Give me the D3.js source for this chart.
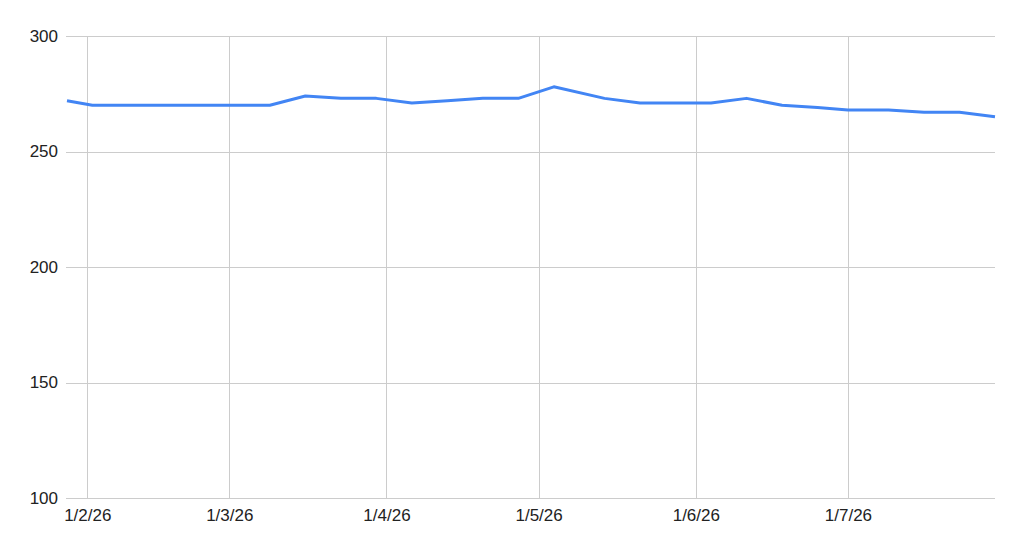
<!DOCTYPE html>
<html>
<head>
<meta charset="utf-8">
<script src="https://cdn.jsdelivr.net/npm/d3@7"></script>
<style>
  html, body { margin: 0; padding: 0; background: #fff; }
  svg { display: block; }
  text { font-family: "Liberation Sans", Arial, sans-serif; fill: #222; }
</style>
</head>
<body>
<svg id="chart" width="1023" height="553"></svg>
<script>
// Data (d/m/yyyy dates)
const dates = [
  "2026-01-28", "2026-02-02", "2026-02-09", "2026-02-16", "2026-02-23", "2026-03-02",
  "2026-03-09", "2026-03-16", "2026-03-23", "2026-03-30", "2026-04-06", "2026-04-13",
  "2026-04-20", "2026-04-27", "2026-05-04", "2026-05-14", "2026-05-21", "2026-05-28",
  "2026-06-04", "2026-06-11", "2026-06-18", "2026-06-25", "2026-07-01", "2026-07-09",
  "2026-07-16", "2026-07-23", "2026-07-30"
];
const values = [
  272, 270, 270, 270, 270, 270,
  270, 274, 273, 273, 271, 272,
  273, 273, 278, 273, 271, 271,
  271, 273, 270, 269, 268, 268,
  267, 267, 265
];
const yTicks = [100, 150, 200, 250, 300];
const xTicks = ["2026-02-01", "2026-03-01", "2026-04-01", "2026-05-01", "2026-06-01", "2026-07-01"];

const parse = d3.timeParse("%Y-%m-%d");
const data = dates.map((d, i) => ({ date: parse(d), value: values[i] }));
const xTickDates = xTicks.map(parse);

const margin = { left: 67, right: 28, top: 36, bottom: 55 };
const W = 1023, H = 553;
const svg = d3.select("#chart");

const x = d3.scaleTime()
  .domain(d3.extent(data, d => d.date))
  .range([margin.left, W - margin.right]);
const y = d3.scaleLinear()
  .domain([100, 300])
  .range([H - margin.bottom, margin.top]);

const grid = "#cccccc";

// Horizontal gridlines
svg.append("g")
  .selectAll("line")
  .data(yTicks)
  .join("line")
  .attr("x1", margin.left - 1)
  .attr("x2", W - margin.right)
  .attr("y1", d => Math.round(y(d)) + 0.5)
  .attr("y2", d => Math.round(y(d)) + 0.5)
  .attr("stroke", grid)
  .attr("stroke-width", 1);

// Vertical gridlines
svg.append("g")
  .selectAll("line")
  .data(xTickDates)
  .join("line")
  .attr("x1", d => Math.round(x(d)) + 0.5)
  .attr("x2", d => Math.round(x(d)) + 0.5)
  .attr("y1", y(300))
  .attr("y2", y(100))
  .attr("stroke", grid)
  .attr("stroke-width", 1);

// Y axis labels
const yAxis = d3.axisLeft(y).tickValues(yTicks).tickSize(0).tickPadding(9);
const gy = svg.append("g")
  .attr("transform", `translate(${margin.left},0)`)
  .call(yAxis);
gy.select(".domain").remove();
gy.selectAll("text")
  .style("font-family", '"Liberation Sans", Arial, sans-serif')
  .style("font-size", "17px")
  .attr("fill", "#222");

// X axis labels
const fmt = d => `${d.getDate()}/${d.getMonth() + 1}/${String(d.getFullYear()).slice(2)}`;
const xAxis = d3.axisBottom(x).tickValues(xTickDates).tickFormat(fmt).tickSize(0).tickPadding(11);
const gx = svg.append("g")
  .attr("transform", `translate(0,${y(100)})`)
  .call(xAxis);
gx.select(".domain").remove();
gx.selectAll("text")
  .style("font-family", '"Liberation Sans", Arial, sans-serif')
  .style("font-size", "17px")
  .attr("fill", "#222");

// Line
const line = d3.line()
  .x(d => x(d.date))
  .y(d => y(d.value));
svg.append("path")
  .datum(data)
  .attr("fill", "none")
  .attr("stroke", "#4285F4")
  .attr("stroke-width", 3)
  .attr("stroke-linejoin", "round")
  .attr("d", line);
</script>
</body>
</html>
